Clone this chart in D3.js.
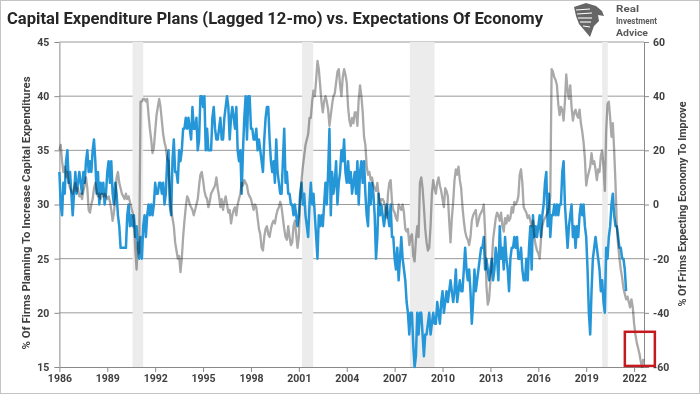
<!DOCTYPE html>
<html><head><meta charset="utf-8">
<script src="https://cdn.jsdelivr.net/npm/d3@7"></script>
<style>body{margin:0;background:#fff}svg{display:block}</style>
</head><body>
<svg id="chart" width="700" height="394"></svg>
<script>
const title = "Capital Expenditure Plans (Lagged 12-mo) vs. Expectations Of Economy";
const leftAxisTitle = "% Of Firms Planning To Increase Capital Expenditures";
const rightAxisTitle = "% Of Frims Expecting Economy To Improve";
const logoLines = ["Real", "Investment", "Advice"];
const logoWidths = [23, 41, 32];

// Monthly series, first value = January 1986
const startYear = 1986;
const capexPlans = [
33,30,29,32,31,34,35,32,33,31, 29,31,33,31,32,33,32,31,33,32,
34,35,33,34,33,35,36,34,31,33, 30,32,31,32,30,31,33,34,32,34,
31,30,32,31,29,28,26,26,26,26, 26,29,30,28,29,28,29,27,28,26,
25,27,25,28,29,27,29,30,29,30, 29,30,32,31,31,32,32,31,32,30,
31,34,35,30,29,34,36,33,33,32, 35,34,35,37,37,38,37,38,37,36,
39,37,37,38,35,36,40,40,39,40, 35,37,35,35,35,38,39,37,36,36,
37,38,36,36,38,39,40,39,36,38, 39,38,37,39,35,34,35,31,35,38,
40,36,40,40,37,37,36,36,37,35, 36,35,34,33,36,38,39,39,36,34,
33,34,32,36,33,32,31,31,34,37, 32,33,31,31,30,30,29,30,29,28,
29,31,32,30,31,29,28,27,30,32, 30,31,29,27,25,29,28,29,28,30,
32,30,33,37,29,33,31,32,34,30, 32,33,35,34,36,33,32,34,32,33,
31,32,33,31,34,30,33,34,32,34, 31,29,28,32,30,32,31,29,25,27,
31,29,30,29,28,29,30,29,28,30, 27,27,25,24,26,23,25,27,25,24,
23,21,20,18,20,20,17,15,16,20, 18,20,20,18,16,18,18,19,20,18,
19,20,19,19,21,20,19,21,22,20, 21,22,21,22,23,22,21,22,24,21,
22,23,22,22,24,26,24,23,24,22, 19,21,24,22,23,24,25,26,26,27,
24,25,24,23,24,25,23,24,26,25, 23,28,25,26,24,27,25,24,22,25,
26,26,27,26,27,25,25,26,24,23, 23,25,23,26,28,24,29,27,28,27,
28,29,27,29,30,32,33,28,31,27, 29,29,30,29,30,29,30,30,33,34,
30,28,26,28,29,30,27,28,26,28, 27,29,30,29,30,28,27,24,20,18,
22,25,26,27,26,25,24,22,23,21, 20,26,25,27,28,30,31,29,28,28,
27,26,26,25,25,24,22
];
const economyOutlook = [
20,22,16,12,14,10,12,8,6,5, 4,6,8,5,6,3,4,2,5,7,
10,6,-2,-3,0,2,6,8,5,3, 4,2,4,3,4,3,2,3,1,-2,
-6,-3,2,10,12,8,6,4,3,2, 4,2,3,1,-1,-3,-6,-16,-24,-14,
-18,38,38,39,39,38,39,33,28,24, 19,21,27,33,36,39,36,31,26,23,
21,17,16,4,-2,-5,-8,-14,-17,-20, -19,-25,-20,-12,-6,-1,3,2,0,-1,
-2,-4,-2,0,2,7,11,12,9,5, 3,2,-1,1,4,5,6,7,10,6,
3,-1,2,-2,1,3,0,-3,-2,-7, -4,-2,-1,-4,0,2,4,8,7,9,
8,7,4,3,2,0,-2,0,-1,-5, -9,-11,-16,-17,-12,-9,-8,-11,-12,-9,
-7,-6,-7,-4,-2,-1,1,-1,-5,-9, -12,-13,-8,-12,-15,-14,-8,-6,-11,-16,
-12,1,9,14,18,22,24,26,32,32, 38,42,40,46,53,50,44,38,34,38,
40,38,35,29,33,37,40,41,45,49, 50,44,40,47,50,48,45,36,31,29,
32,30,34,34,29,39,44,40,34,25, 22,14,11,12,9,10,7,6,5,8,
3,0,2,2,1,-2,-5,4,8,9, 1,-2,-3,-5,-6,0,-1,-2,0,-3,
-9,-10,-9,-15,-12,-11,-19,-21,-13,-8, -12,8,10,6,-1,-9,-14,-17,-16,-8,
4,9,6,4,8,10,7,5,2,-1, 6,5,3,-6,-14,-5,1,9,13,11,
14,9,6,-1,-6,-10,-12,-13,-15,-12, -6,-4,-3,-2,-8,-6,-4,-3,-2,0,
-10,-30,-37,-35,-28,-22,-13,-9,-5,-3, -4,-6,-3,-8,-10,-5,-7,-4,-6,-5,
-1,-3,1,0,1,3,11,13,8,-1, -2,-3,-5,-4,-6,-8,-6,-12,-15,-17,
-18,-20,-13,-8,-6,-5,-4,-3,-1,3, 50,49,47,46,44,37,33,36,35,31,
38,48,42,39,44,36,31,34,35,33, 32,35,30,27,23,17,7,10,12,14,
19,15,16,13,9,13,12,18,20,14, 5,27,37,38,32,25,30,20,8,-8,
-15,-20,-24,-27,-31,-33,-35,-34,-36,-38, -35,-38,-44,-48,-51,-53,-55,-58,-60,-57
];
const yearTicks = [1986,1989,1992,1995,1998,2001,2004,2007,2010,2013,2016,2019,2022];
const leftTicks = [15,20,25,30,35,40,45];
const rightTicks = [-60,-40,-20,0,20,40,60];
const recessions = [[1990.58,1991.25],[2001.2,2001.9],[2007.95,2009.5],[2020.0,2020.35]];
const highlightBox = {x0: 2021.42, x1: 2023.3, y0: -47, y1: -59.6};

const W = 700, H = 394;
const M = {left: 59.4, right: 644, top: 42, bottom: 367};
const svg = d3.select("#chart");
const FONT = "Roboto, 'Open Sans', 'DejaVu Sans', sans-serif";
const TXT = "#404040";

const x = d3.scaleLinear().domain([1986, 2022.62]).range([M.left, M.right]);
const yL = d3.scaleLinear().domain([15, 45]).range([M.bottom, M.top]);
const yR = d3.scaleLinear().domain([-60, 60]).range([M.bottom, M.top]);
const tYear = i => startYear + i / 12;

svg.append("rect").attr("x",0.5).attr("y",0.5).attr("width",W-1).attr("height",H-1)
  .attr("fill","#fff").attr("stroke","#c4c4c4");

// gridlines
svg.append("g").selectAll("line").data(leftTicks.filter(d => d > 15)).join("line")
  .attr("x1", M.left).attr("x2", M.right)
  .attr("y1", d => yL(d)).attr("y2", d => yL(d))
  .attr("stroke", "#9a9a9a").attr("stroke-width", 1);

// recession bands
svg.append("g").selectAll("rect").data(recessions).join("rect")
  .attr("x", d => x(d[0])).attr("width", d => x(d[1]) - x(d[0]))
  .attr("y", M.top).attr("height", M.bottom - M.top)
  .attr("fill", "#ececec");

function styleAxis(g) {
  g.select(".domain").attr("stroke", "#8a8a8a");
  g.selectAll(".tick line").attr("stroke", "#8a8a8a");
  g.selectAll("text").attr("fill", TXT).attr("font-family", FONT)
    .attr("font-weight", "bold").attr("font-size", "10.5px");
}
svg.append("g").attr("transform", `translate(${M.left},0)`)
  .call(d3.axisLeft(yL).tickValues(leftTicks).tickSize(5).tickSizeOuter(0).tickPadding(5).tickFormat(d => String(d)))
  .call(styleAxis);
svg.append("g").attr("transform", `translate(${M.right},0)`)
  .call(d3.axisRight(yR).tickValues(rightTicks).tickSize(5).tickSizeOuter(0).tickPadding(4).tickFormat(d => String(d)))
  .call(styleAxis);
svg.append("g").attr("transform", `translate(0,${M.bottom})`)
  .call(d3.axisBottom(x).tickValues(yearTicks).tickSize(5).tickSizeOuter(0).tickPadding(3).tickFormat(d => String(d)))
  .call(styleAxis);

// lines
const blueLine = d3.line().x((d, i) => x(tYear(i))).y(d => yL(d));
const grayLine = d3.line().x((d, i) => x(tYear(i))).y(d => yR(d));
svg.append("path").datum(capexPlans).attr("d", blueLine)
  .attr("fill", "none").attr("stroke", "#2596d8").attr("stroke-width", 2.5)
  .attr("stroke-linejoin", "round");
svg.append("path").datum(economyOutlook).attr("d", grayLine)
  .attr("fill", "none").attr("stroke", "#a9a9a9").attr("stroke-width", 2.3)
  .attr("stroke-linejoin", "round").style("mix-blend-mode", "multiply");

// highlight box
svg.append("rect")
  .attr("x", x(highlightBox.x0)).attr("width", x(highlightBox.x1) - x(highlightBox.x0))
  .attr("y", yR(highlightBox.y0)).attr("height", yR(highlightBox.y1) - yR(highlightBox.y0))
  .attr("fill", "none").attr("stroke", "#c41a1f").attr("stroke-width", 2.5);

// title
svg.append("text").attr("x", 7).attr("y", 24).text(title)
  .attr("font-family", FONT).attr("font-weight", "bold").attr("font-size", "16.5px")
  .attr("fill", "#262626").attr("textLength", 536).attr("lengthAdjust", "spacingAndGlyphs");

// axis titles
svg.append("text").attr("transform", "translate(30,213) rotate(-90)")
  .attr("text-anchor", "middle").text(leftAxisTitle)
  .attr("font-family", FONT).attr("font-weight", "bold").attr("font-size", "10.5px")
  .attr("fill", TXT).attr("textLength", 273).attr("lengthAdjust", "spacingAndGlyphs");
svg.append("text").attr("transform", "translate(686,204) rotate(-90)")
  .attr("text-anchor", "middle").text(rightAxisTitle)
  .attr("font-family", FONT).attr("font-weight", "bold").attr("font-size", "10.5px")
  .attr("fill", TXT).attr("textLength", 205).attr("lengthAdjust", "spacingAndGlyphs");

// logo
const logo = svg.append("g");
logo.append("path")
  .attr("d", "M574,7 L586,3 L596,6 L602,11 L604,16 L598,15 L599,21 L594,26 L590,37 L585,31 L579,24 L576,16 Z")
  .attr("fill", "#666");
[[576,10,590,9],[577,14,592,13],[578,18,592,18],[580,22,591,22],[583,26,590,27]].forEach(s => {
  logo.append("line").attr("x1", s[0]).attr("y1", s[1]).attr("x2", s[2]).attr("y2", s[3])
    .attr("stroke", "#fff").attr("stroke-width", 1.1);
});
logo.selectAll("text.lg").data(logoLines).join("text").attr("class", "lg")
  .attr("x", 616).attr("y", (d, i) => 12 + i * 11.8).text(d => d)
  .attr("font-family", FONT).attr("font-weight", "bold").attr("font-size", "9.6px")
  .attr("fill", "#5a5a5a")
  .attr("textLength", (d, i) => logoWidths[i]).attr("lengthAdjust", "spacingAndGlyphs");
</script>
</body></html>
